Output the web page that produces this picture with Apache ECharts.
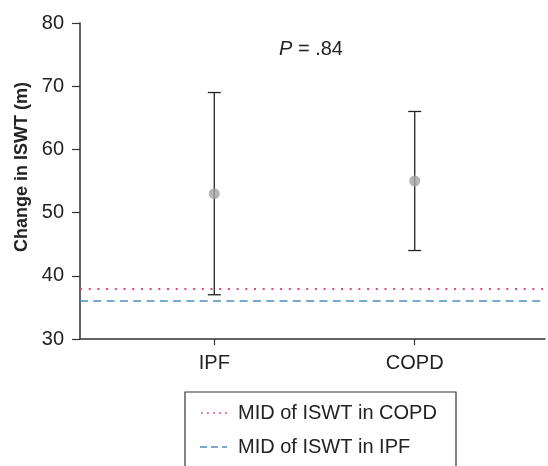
<!DOCTYPE html>
<html>
<head>
<meta charset="utf-8">
<script src="https://cdn.jsdelivr.net/npm/echarts@6/dist/echarts.min.js"></script>
<style>
html,body{margin:0;padding:0;background:#fff;}
#main{width:548px;height:466px;}
</style>
</head>
<body>
<div id="main"></div>
<script>
// data
var groups = ['IPF', 'COPD'];
var groupPos = [1, 2];
var means = [53, 55];
var lows = [37, 44];
var highs = [69, 66];
var midCopd = 38;
var midIpf = 36;
var yTicks = [30, 40, 50, 60, 70, 80];
var pText = '= .84';

var font = '"Liberation Sans", Arial, sans-serif';
var ink = '#222';
var pink = '#e0457b';
var blue = '#4a8fbf';

var errData = [];
var dotData = [];
for (var i = 0; i < groups.length; i++) {
    errData.push([groupPos[i], lows[i], highs[i]]);
    dotData.push([groupPos[i], means[i]]);
}

// legend icons: 27x14 box, degenerate corners keep the bbox, marks sit in the middle
var box = 'M0 0L0 0ZM27 14L27 14Z';
var dotIcon = 'path://' + box;
for (var d = 0; d < 5; d++) {
    var x0 = 1 + d * 6.2;
    dotIcon += 'M' + x0 + ' 6.2L' + (x0 + 1.8) + ' 6.2L' + (x0 + 1.8) + ' 7.8L' + x0 + ' 7.8Z';
}
var dashIcon = 'path://' + box +
    'M0 6.3L7 6.3L7 7.7L0 7.7Z' +
    'M11 6.3L18 6.3L18 7.7L11 7.7Z' +
    'M22 6.3L27 6.3L27 7.7L22 7.7Z';

var chart = echarts.init(document.getElementById('main'));

var option = {
    animation: false,
    backgroundColor: '#fff',
    grid: { left: 80, top: 23, right: 3, bottom: 127 },
    xAxis: {
        type: 'value',
        min: 0.33,
        max: 2.65,
        splitLine: { show: false },
        axisLine: { lineStyle: { color: '#333', width: 1.5 } },
        axisTick: { show: true, customValues: groupPos, length: 6, lineStyle: { color: '#333', width: 1.2 } },
        axisLabel: {
            customValues: groupPos,
            margin: 14,
            fontSize: 20,
            fontFamily: font,
            color: ink,
            formatter: function (v) {
                var k = groupPos.indexOf(Math.round(v));
                return k >= 0 ? groups[k] : '';
            }
        }
    },
    yAxis: {
        type: 'value',
        min: yTicks[0],
        max: yTicks[yTicks.length - 1],
        interval: 10,
        splitLine: { show: false },
        axisLine: { show: true, lineStyle: { color: '#333', width: 1.5 } },
        axisTick: { show: true, length: 8, lineStyle: { color: '#333', width: 1.2 } },
        axisLabel: { margin: 16, fontSize: 20, fontFamily: font, color: ink }
    },
    legend: {
        orient: 'vertical',
        left: 200,
        top: 401,
        padding: 0,
        itemGap: 10,
        itemWidth: 27,
        itemHeight: 14,
        selectedMode: false,
        data: [
            { name: 'MID of ISWT in COPD', icon: dotIcon, itemStyle: { color: pink } },
            { name: 'MID of ISWT in IPF', icon: dashIcon, itemStyle: { color: blue } }
        ],
        textStyle: { fontSize: 20, lineHeight: 24, fontFamily: font, color: ink, padding: [0, 0, 0, 6] }
    },
    graphic: [
        {
            type: 'rect',
            shape: { x: 185, y: 392, width: 271, height: 120 },
            style: { fill: 'none', stroke: '#333', lineWidth: 1.2 }
        },
        {
            type: 'text',
            x: 22,
            y: 167,
            rotation: Math.PI / 2,
            style: {
                text: 'Change in ISWT (m)',
                font: 'bold 18px ' + font,
                fill: ink,
                align: 'center',
                verticalAlign: 'middle'
            }
        },
        {
            type: 'text',
            x: 279,
            y: 49,
            style: {
                text: '{i|P} ' + pText,
                verticalAlign: 'middle',
                fill: ink,
                font: '20px ' + font,
                rich: {
                    i: { fontStyle: 'italic', fontSize: 20, fontFamily: font, fill: ink }
                }
            }
        }
    ],
    series: [
        {
            name: 'MID of ISWT in COPD',
            type: 'line',
            data: [],
            symbol: 'none',
            color: pink,
            lineStyle: { color: pink, width: 1.8, type: [2, 6.7] },
            markLine: {
                silent: true,
                symbol: 'none',
                label: { show: false },
                lineStyle: { color: pink, width: 1.8, type: [2, 6.7] },
                data: [{ yAxis: midCopd }]
            }
        },
        {
            name: 'MID of ISWT in IPF',
            type: 'line',
            data: [],
            symbol: 'none',
            color: blue,
            lineStyle: { color: blue, width: 1.5, type: [8, 5.3] },
            markLine: {
                silent: true,
                symbol: 'none',
                label: { show: false },
                lineStyle: { color: blue, width: 1.5, type: [8, 5.3] },
                data: [{ yAxis: midIpf }]
            }
        },
        {
            type: 'custom',
            z: 3,
            data: errData,
            renderItem: function (params, api) {
                var x = api.value(0);
                var lo = api.coord([x, api.value(1)]);
                var hi = api.coord([x, api.value(2)]);
                var cap = 6.5;
                var st = { stroke: '#222', lineWidth: 1.3 };
                return {
                    type: 'group',
                    children: [
                        { type: 'line', shape: { x1: lo[0], y1: lo[1], x2: hi[0], y2: hi[1] }, style: st },
                        { type: 'line', shape: { x1: lo[0] - cap, y1: lo[1], x2: lo[0] + cap, y2: lo[1] }, style: st },
                        { type: 'line', shape: { x1: hi[0] - cap, y1: hi[1], x2: hi[0] + cap, y2: hi[1] }, style: st }
                    ]
                };
            }
        },
        {
            type: 'scatter',
            z: 4,
            data: dotData,
            symbolSize: 11,
            itemStyle: { color: '#a3a3a3' }
        }
    ]
};

chart.setOption(option);
</script>
</body>
</html>
